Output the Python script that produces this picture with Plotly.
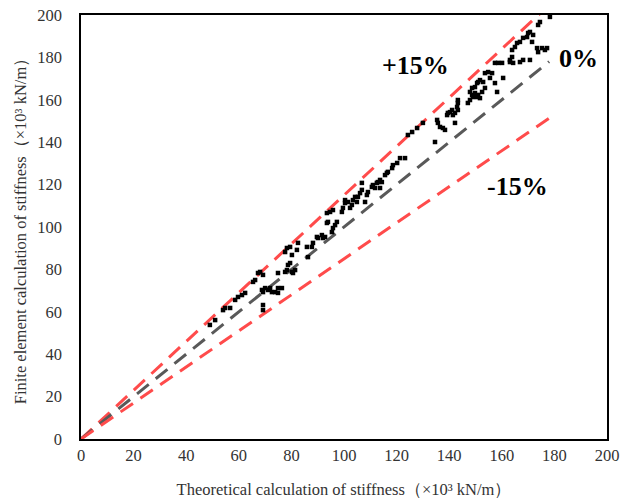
import plotly.graph_objects as go

# Scatter data (theoretical vs finite element stiffness, x10^3 kN/m)
theo = [49.0, 51.0, 54.0, 54.8, 56.7, 58.6, 59.7, 61.2, 62.4, 65.4, 66.2, 67.3, 68.1, 69.2, 68.8, 69.2, 69.2, 69.2,
        70.0, 71.1, 71.9, 72.6, 73.8, 74.9, 74.9, 76.4, 74.9, 77.6, 78.3, 78.7, 79.5, 80.2, 80.6, 81.4, 77.6, 78.3,
        79.5, 82.1, 82.5, 80.2, 85.9, 86.3,
        87.8, 88.2, 89.7, 90.1, 91.6, 92.0, 92.8, 93.5, 93.9, 95.4, 95.8, 96.6, 97.3, 93.5, 94.7, 95.8, 99.2, 99.6,
        100.4, 100.4, 101.5, 102.3, 103.0, 103.4, 104.2, 104.9, 105.3, 106.1, 106.8, 106.8, 108.0, 108.7, 109.1,
        110.6, 111.0, 111.8, 112.5, 112.9, 113.7, 114.4, 113.7, 115.6, 116.3, 116.7, 118.3, 118.6, 120.2,
        121.3, 123.2, 124.3, 125.9, 127.8, 130.0, 134.6, 135.4, 135.7, 136.5, 137.6, 138.4, 139.2, 139.5, 140.3,
        141.1, 141.4, 142.2, 142.2, 143.0, 143.3, 143.3, 143.3, 147.1, 147.9, 148.7, 149.0, 149.8, 150.6, 151.0,
        151.7, 147.9, 148.7, 149.8, 150.6, 151.0, 151.7, 153.6, 152.5,
        152.9, 153.6, 154.8, 156.3, 155.5, 157.4, 158.2, 160.5, 157.4, 158.6, 160.1, 163.1, 163.9, 163.9, 165.0,
        163.1, 164.3, 166.9, 168.1, 165.8, 166.9, 168.1, 169.6, 170.0, 170.7, 171.5, 171.9, 173.4, 173.8, 175.3,
        176.4, 177.2, 173.8, 174.5, 178.3, 170.7]
fem = [53.8, 56.1, 60.8, 61.8, 61.8, 65.6, 67.0, 67.9, 68.9, 74.1, 75.0, 78.3, 78.8, 77.4, 70.3, 69.3, 63.2, 60.8,
       71.2, 70.3, 71.2, 69.3, 69.3, 68.9, 71.2, 71.2, 78.3, 78.8, 79.7, 82.1, 83.0, 78.8, 78.3, 79.7, 88.2, 90.1,
       90.6, 89.2, 92.5, 86.8, 90.6, 85.8,
       90.6, 92.5, 95.3, 94.8, 96.2, 94.8, 95.3, 101.9, 102.4, 97.6, 99.5, 100.9, 102.4, 106.6, 107.1, 108.0, 107.1, 109.0,
       111.3, 112.7, 111.8, 109.0, 110.4, 112.7, 114.2, 111.8, 114.2, 116.0, 117.5, 120.8, 111.8, 115.1, 116.5,
       118.9, 119.8, 118.4, 120.8, 121.2, 122.2, 121.2, 118.4, 124.5, 125.5, 126.0, 127.8, 129.2, 130.2,
       132.5, 132.5, 143.4, 144.8, 146.7, 149.1, 140.1, 150.5, 149.1, 147.2, 146.7, 145.8, 152.8, 153.8, 154.2,
       155.2, 152.8, 153.8, 149.1, 156.6, 158.5, 159.9, 155.2, 158.5, 159.9, 162.3, 161.3, 163.2, 161.3, 162.3,
       160.8, 163.7, 165.6, 166.0, 167.9, 168.4, 169.3, 165.6, 163.7,
       168.4, 172.6, 173.1, 172.6, 170.3, 167.9, 163.7, 170.3, 177.4, 177.4, 177.4, 178.8, 180.2, 183.5, 184.9,
       177.8, 177.4, 177.8, 178.8, 186.8, 187.3, 189.2, 189.6, 191.5, 192.0, 187.3, 190.6, 184.4, 182.5, 184.4,
       183.5, 184.4, 195.3, 196.7, 199.1, 178.8]

# Reference lines
line_x = [0, 178]
ratios = [1.15, 1.00, 0.85]
line_colors = ["#FF4B4B", "#595959", "#FF4B4B"]

# Labels
labels = ["+15%", "0%", "-15%"]
label_x = [127, 189, 166]
label_y = [176, 179.5, 119]

tick_vals = list(range(0, 201, 20))

fig = go.Figure()
for r, c in zip(ratios, line_colors):
    fig.add_trace(go.Scatter(x=line_x, y=[r * v for v in line_x], mode="lines",
                             line=dict(color=c, width=3, dash="15px,9px"),
                             showlegend=False, hoverinfo="skip"))

fig.add_trace(go.Scatter(x=theo, y=fem, mode="markers",
                         marker=dict(symbol="square", size=4.5, color="black"),
                         showlegend=False))

for t, lx, ly in zip(labels, label_x, label_y):
    fig.add_annotation(x=lx, y=ly, text="<b>%s</b>" % t, showarrow=False,
                       font=dict(family="Liberation Serif", size=26, color="black"))

font = dict(family="Liberation Serif", size=16.5, color="#333333")
title_font = dict(family="Liberation Serif", size=16.5, color="#333333")
fig.update_xaxes(range=[0, 200], tickvals=tick_vals, showgrid=False, zeroline=False,
                 showline=True, linecolor="black", linewidth=1.5, mirror=True,
                 ticks="", tickfont=font, automargin=False,
                 title=dict(text="Theoretical calculation of stiffness（×10³ kN/m）",
                            font=title_font, standoff=20))
fig.update_yaxes(range=[0, 200], tickvals=tick_vals, showgrid=False, zeroline=False,
                 showline=True, linecolor="black", linewidth=1.5, mirror=True,
                 ticks="outside", ticklen=14, tickcolor="rgba(0,0,0,0)",
                 tickfont=font, automargin=False,
                 title=dict(text="Finite element calculation of stiffness（×10³ kN/m）",
                            font=title_font, standoff=6))
fig.update_layout(width=634, height=503, margin=dict(l=81, r=27, t=15, b=64),
                  plot_bgcolor="white", paper_bgcolor="white")

fig.write_html("out.html")
